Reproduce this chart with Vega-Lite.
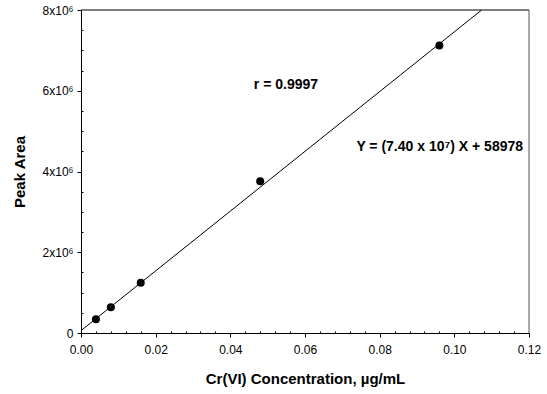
{
  "$schema": "https://vega.github.io/schema/vega-lite/v6.json",
  "width": 448,
  "height": 323,
  "autosize": "none",
  "padding": {"left": 81, "top": 10, "right": 18, "bottom": 61},
  "background": "white",
  "config": {
    "font": "Liberation Sans",
    "view": {"stroke": null},
    "axis": {
      "domainColor": "black",
      "tickColor": "black",
      "labelColor": "black",
      "titleColor": "black",
      "labelFont": "Liberation Sans",
      "titleFont": "Liberation Sans",
      "labelFontSize": 12,
      "titleFontSize": 15,
      "titleFontWeight": "bold",
      "labelOverlap": false,
      "grid": false
    },
    "axisX": {"labelOverlap": false},
    "axisY": {"labelOverlap": false}
  },
  "datasets": {
    "standards": [
      {"conc": 0.004, "area": 340000},
      {"conc": 0.008, "area": 637000},
      {"conc": 0.016, "area": 1246000},
      {"conc": 0.048, "area": 3760000},
      {"conc": 0.096, "area": 7120000}
    ],
    "fit": [
      {"conc": 0.0, "area": 58978},
      {"conc": 0.10731, "area": 8000000}
    ]
  },
  "encoding": {
    "x": {
      "field": "conc",
      "type": "quantitative",
      "scale": {"domain": [0, 0.12], "nice": false, "zero": false},
      "axis": {
        "title": "Cr(VI) Concentration, µg/mL",
        "values": [0, 0.004, 0.008, 0.012, 0.016, 0.02, 0.024, 0.028, 0.032, 0.036, 0.04, 0.044, 0.048, 0.052, 0.056, 0.06, 0.064, 0.068, 0.072, 0.076, 0.08, 0.084, 0.088, 0.092, 0.096, 0.1, 0.104, 0.108, 0.112, 0.116, 0.12],
        "labelExpr": "round(datum.value * 1000) % 20 == 0 ? format(datum.value, '.2f') : ''",
        "tickSize": {"condition": {"test": "round(datum.value * 1000) % 20 == 0", "value": 4}, "value": -2},
        "labelPadding": 7,
        "labelFlush": false,
        "labelOverlap": false,
        "titlePadding": 16
      }
    },
    "y": {
      "field": "area",
      "type": "quantitative",
      "scale": {"domain": [0, 8000000], "nice": false},
      "axis": {
        "title": "Peak Area",
        "values": [0, 500000, 1000000, 1500000, 2000000, 2500000, 3000000, 3500000, 4000000, 4500000, 5000000, 5500000, 6000000, 6500000, 7000000, 7500000, 8000000],
        "labelExpr": "datum.value == 0 ? '0' : (datum.value % 2000000 == 0 ? (datum.value / 1000000) + 'x10⁶' : '')",
        "tickSize": {"condition": {"test": "datum.value % 2000000 == 0", "value": 4}, "value": -2},
        "labelPadding": 4,
        "labelFlush": false,
        "labelOverlap": false,
        "titlePadding": 15
      }
    }
  },
  "layer": [
    {
      "data": {"name": "fit"},
      "mark": {"type": "line", "color": "black", "strokeWidth": 1}
    },
    {
      "data": {"name": "standards"},
      "mark": {"type": "point", "filled": true, "color": "black", "opacity": 1, "size": 64}
    },
    {
      "data": {"values": [{"conc": 0.0549, "area": 6140000, "label": "r = 0.9997"}]},
      "mark": {"type": "text", "fontWeight": "bold", "fontSize": 14, "color": "black", "baseline": "middle", "align": "center"},
      "encoding": {"text": {"field": "label"}}
    },
    {
      "data": {"values": [{"conc": 0.1184, "area": 4610000, "label": "Y = (7.40 x 10⁷) X + 58978"}]},
      "mark": {"type": "text", "fontWeight": "bold", "fontSize": 14, "color": "black", "baseline": "middle", "align": "right"},
      "encoding": {"text": {"field": "label"}}
    },
    {
      "data": {"values": [{"conc": 0, "area": 8000000}, {"conc": 0.12, "area": 8000000}]},
      "mark": {"type": "line", "color": "black", "strokeWidth": 1}
    },
    {
      "data": {"values": [{"conc": 0.12, "area": 0}, {"conc": 0.12, "area": 8000000}]},
      "mark": {"type": "line", "color": "#555555", "strokeWidth": 1}
    }
  ]
}
